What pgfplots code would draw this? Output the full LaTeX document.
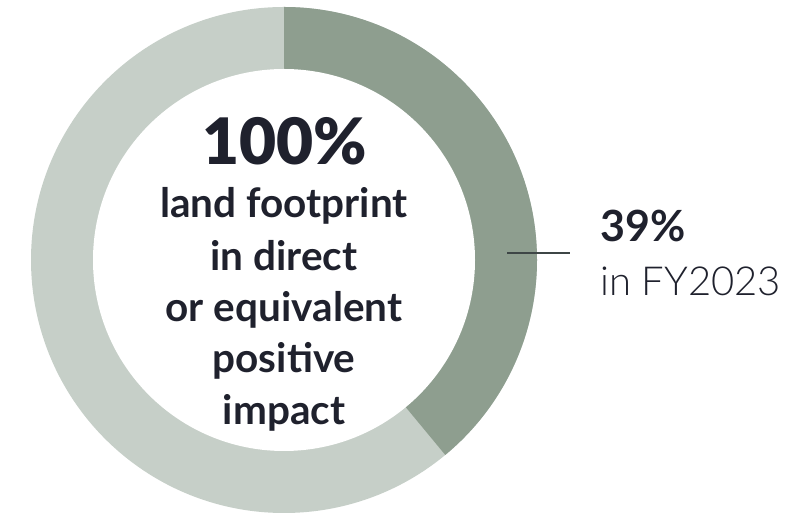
\documentclass[border=0pt]{standalone}
\usepackage{pgfplots}
\pgfplotsset{compat=1.18}
\usepackage{pgfplotstable}
\usepackage{fontspec}
\setmainfont{Lato}
\newfontfamily\latoblack{Lato Black}
\newfontfamily\latolight{Lato Light}
\definecolor{ringdark}{HTML}{8E9E8F}
\definecolor{ringlight}{HTML}{C6CFC8}
\definecolor{textdark}{HTML}{1F212D}
\definecolor{linecol}{HTML}{3E4646}
\pgfplotstableread{
label value
FY2023 39
rest 61
}\donutdata
\begin{document}
\begin{tikzpicture}
\path[use as bounding box] (0,0) rectangle (785pt,516pt);
\clip (0,0) rectangle (785pt,516pt);
\pgfplotstablegetelem{0}{value}\of\donutdata
\pgfmathsetmacro{\share}{\pgfplotsretval}
\pgfmathsetmacro{\endang}{90-3.6*\share}
\begin{axis}[at={(0,0)},anchor=south west,x=1pt,y=1pt,xmin=0,xmax=785,ymin=0,ymax=516,hide axis]
\fill[ringlight] (axis cs:284,256) circle[radius=253pt];
\fill[ringdark] (axis cs:284,256) -- (axis cs:284,509) arc[start angle=90,end angle=\endang,radius=253pt] -- cycle;
\fill[white] (axis cs:284,256) circle[radius=191pt];
\draw[linecol,line width=1.1pt] (axis cs:507,263) -- (axis cs:570,263);
\node[anchor=base,text=textdark,inner sep=0pt,font=\latoblack\fontsize{64}{64}\selectfont] at (axis cs:285,351) {100\%};
\begin{scope}[every node/.style={anchor=base,text=textdark,inner sep=0pt,font=\bfseries\fontsize{40.5}{40.5}\selectfont}]
\node at (axis cs:284,298) {land footprint};
\node at (axis cs:284,245) {in direct};
\node at (axis cs:284,194) {or equivalent};
\node at (axis cs:284,143) {positive};
\node at (axis cs:284,91) {impact};
\end{scope}
\node[anchor=base west,text=textdark,inner sep=0pt,font=\bfseries\fontsize{43}{43}\selectfont] at (axis cs:600,274) {39\%};
\node[anchor=base west,text=textdark,inner sep=0pt,font=\latolight\fontsize{40}{40}\selectfont] at (axis cs:600,220) {in FY2023};
\end{axis}
\end{tikzpicture}
\end{document}
